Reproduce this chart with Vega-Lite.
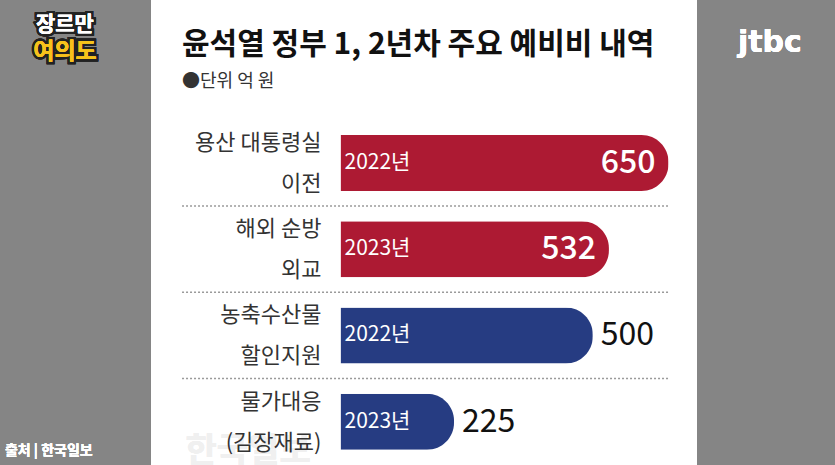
{
  "$schema": "https://vega.github.io/schema/vega-lite/v6.json",
  "width": 546,
  "height": 465,
  "autosize": {"type": "none"},
  "padding": {"left": 151, "right": 138, "top": 0, "bottom": 0},
  "background": "#858585",
  "config": {"view": {"fill": "white", "stroke": null}, "font": "Noto Sans CJK KR"},
  "title": {
    "text": "윤석열 정부 1, 2년차 주요 예비비 내역",
    "subtitle": "●단위 억 원",
    "anchor": "start",
    "frame": "group",
    "orient": "top",
    "offset": -91,
    "dx": 31,
    "font": "Noto Sans CJK KR",
    "fontSize": 30,
    "fontWeight": "bold",
    "color": "#111111",
    "subtitleFont": "Noto Sans CJK KR",
    "subtitleFontSize": 18,
    "subtitleColor": "#333333",
    "subtitlePadding": 13
  },
  "data": {
    "values": [
      {"항목": "용산 대통령실\n이전", "연도": "2022년", "금액": 650, "분야": "A"},
      {"항목": "해외 순방\n외교", "연도": "2023년", "금액": 532, "분야": "A"},
      {"항목": "농축수산물\n할인지원", "연도": "2022년", "금액": 500, "분야": "B"},
      {"항목": "물가대응\n(김장재료)", "연도": "2023년", "금액": 225, "분야": "B"}
    ]
  },
  "encoding": {
    "y": {
      "field": "항목",
      "type": "nominal",
      "sort": null,
      "axis": null,
      "scale": {
        "domain": ["용산 대통령실\n이전", "해외 순방\n외교", "농축수산물\n할인지원", "물가대응\n(김장재료)"],
        "paddingInner": 0.35,
        "paddingOuter": 0.872,
        "align": 0.898
      }
    }
  },
  "layer": [
    {
      "mark": {"type": "text", "text": "한국일보", "fontSize": 34, "fontWeight": "bold", "fill": "#f0f0f0", "align": "center", "baseline": "middle", "yOffset": 30},
      "encoding": {
        "x": {"datum": -183, "type": "quantitative", "scale": {"domain": [-375.5, 706.5], "zero": false, "nice": false}, "axis": null},
        "y": {"datum": "물가대응\n(김장재료)", "type": "nominal"}
      }
    },
    {
      "transform": [{"filter": "datum['항목'] != '물가대응\\n(김장재료)'"}],
      "mark": {"type": "rule", "strokeDash": [2, 2], "stroke": "#9a9a9a", "strokeWidth": 1.5, "yOffset": 15},
      "encoding": {
        "y": {"field": "항목", "type": "nominal", "bandPosition": 1},
        "x": {"datum": -314, "type": "quantitative"},
        "x2": {"datum": 651}
      }
    },
    {
      "mark": {"type": "bar", "cornerRadiusEnd": 27, "orient": "horizontal"},
      "encoding": {
        "x": {"field": "금액", "type": "quantitative"},
        "color": {"field": "분야", "type": "nominal", "scale": {"domain": ["A", "B"], "range": ["#ad1a33", "#263c82"]}, "legend": null}
      }
    },
    {
      "mark": {"type": "text", "align": "left", "baseline": "middle", "dx": 4, "fontSize": 21, "fill": "white"},
      "encoding": {
        "x": {"datum": 0, "type": "quantitative"},
        "text": {"field": "연도"}
      }
    },
    {
      "transform": [{"filter": "datum['분야'] == 'A'"}],
      "mark": {"type": "text", "align": "right", "baseline": "middle", "dx": -13, "fontSize": 32, "fontWeight": 500, "fill": "white"},
      "encoding": {
        "x": {"field": "금액", "type": "quantitative"},
        "text": {"field": "금액"}
      }
    },
    {
      "transform": [{"filter": "datum['분야'] == 'B'"}],
      "mark": {"type": "text", "align": "left", "baseline": "middle", "dx": 8, "fontSize": 32, "fontWeight": "normal", "fill": "#111111"},
      "encoding": {
        "x": {"field": "금액", "type": "quantitative"},
        "text": {"field": "금액"}
      }
    },
    {
      "mark": {"type": "text", "align": "right", "baseline": "middle", "dx": -19, "dy": -20, "fontSize": 22, "lineBreak": "\n", "lineHeight": 41, "fill": "#333333"},
      "encoding": {
        "x": {"datum": 0, "type": "quantitative"},
        "text": {"field": "항목"}
      }
    },
    {
      "mark": {"type": "text", "text": "출처 | 한국일보", "align": "left", "baseline": "middle", "fontSize": 14, "fontWeight": "bold", "fill": "white", "yOffset": 29},
      "encoding": {
        "x": {"datum": -665, "type": "quantitative"},
        "y": {"datum": "물가대응\n(김장재료)", "type": "nominal"}
      }
    },
    {
      "mark": {"type": "text", "text": "jtbc", "align": "center", "baseline": "middle", "fontSize": 30, "fontWeight": "bold", "fill": "white", "yOffset": -120, "font": "DejaVu Sans"},
      "encoding": {
        "x": {"datum": 851, "type": "quantitative"},
        "y": {"datum": "용산 대통령실\n이전", "type": "nominal"}
      }
    },
    {
      "mark": {"type": "text", "text": "장르만", "align": "center", "baseline": "middle", "fontSize": 21, "fontWeight": "bold", "fill": "#222222", "stroke": "#222222", "strokeWidth": 5, "yOffset": -138},
      "encoding": {
        "x": {"datum": -546, "type": "quantitative"},
        "y": {"datum": "용산 대통령실\n이전", "type": "nominal"}
      }
    },
    {
      "mark": {"type": "text", "text": "장르만", "align": "center", "baseline": "middle", "fontSize": 21, "fontWeight": "bold", "fill": "white", "yOffset": -138},
      "encoding": {
        "x": {"datum": -546, "type": "quantitative"},
        "y": {"datum": "용산 대통령실\n이전", "type": "nominal"}
      }
    },
    {
      "mark": {"type": "text", "text": "여의도", "align": "center", "baseline": "middle", "fontSize": 23, "fontWeight": "bold", "fill": "#222222", "stroke": "#222222", "strokeWidth": 5, "yOffset": -111},
      "encoding": {
        "x": {"datum": -546, "type": "quantitative"},
        "y": {"datum": "용산 대통령실\n이전", "type": "nominal"}
      }
    },
    {
      "mark": {"type": "text", "text": "여의도", "align": "center", "baseline": "middle", "fontSize": 23, "fontWeight": "bold", "fill": "#f7c21b", "yOffset": -111},
      "encoding": {
        "x": {"datum": -546, "type": "quantitative"},
        "y": {"datum": "용산 대통령실\n이전", "type": "nominal"}
      }
    }
  ]
}
